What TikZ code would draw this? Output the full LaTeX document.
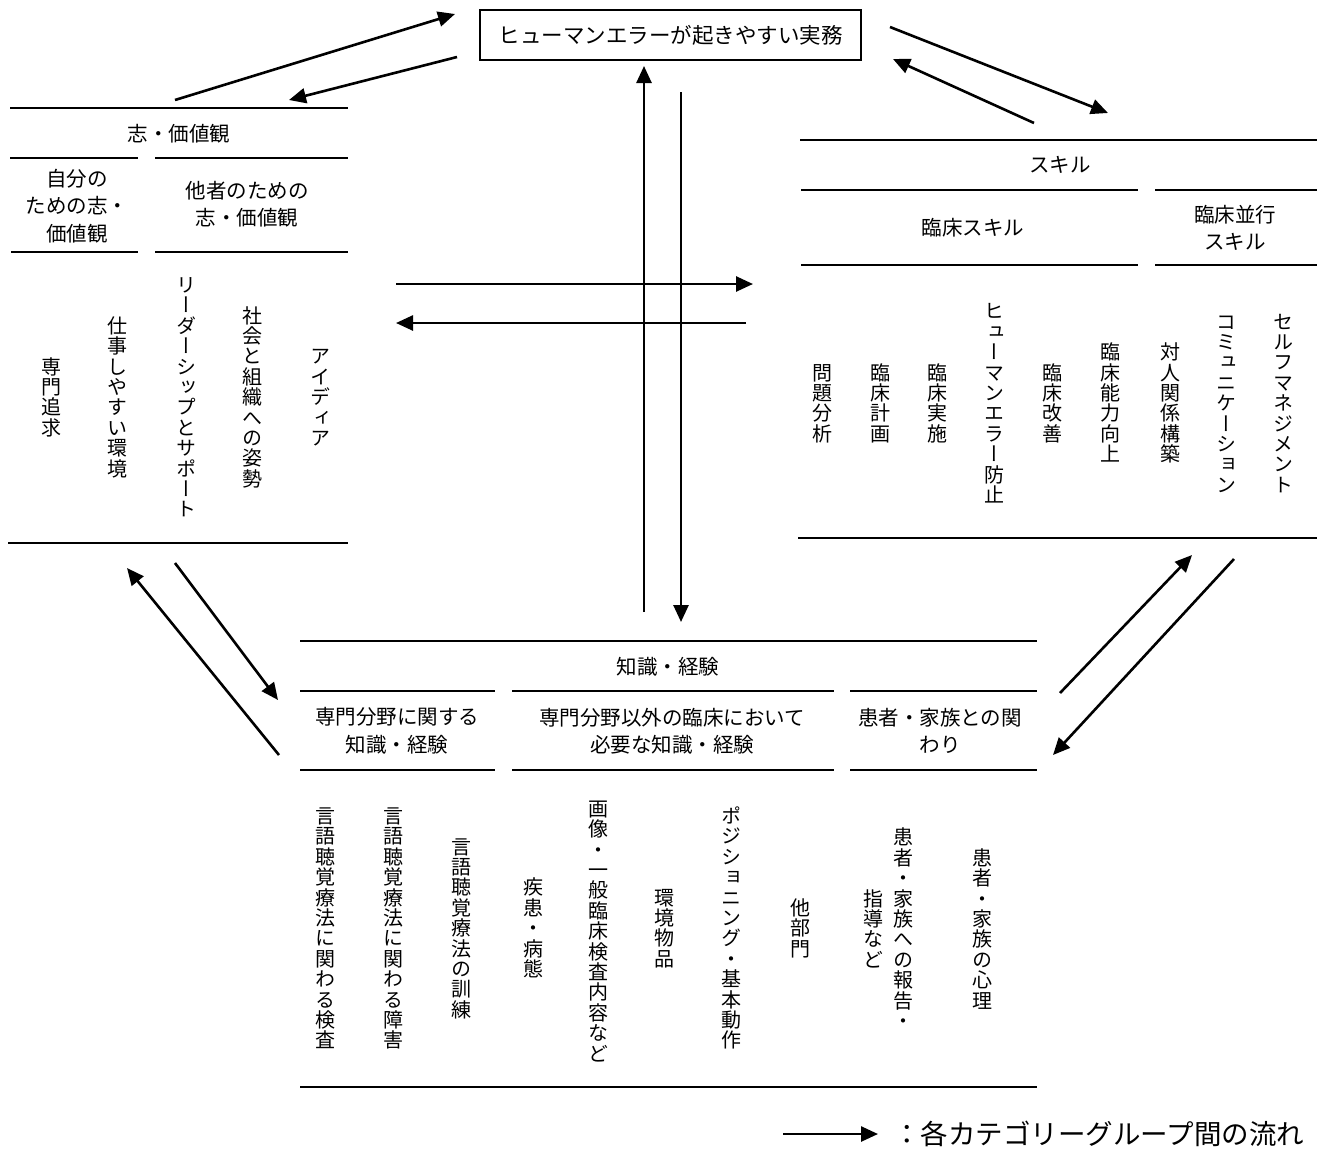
\documentclass[tikz,border=0pt]{standalone}
\usepackage{fontspec}
\setmainfont{Noto Sans CJK JP}
\newfontfamily\vjp[RawFeature=+vert]{Noto Sans CJK JP}
\usetikzlibrary{arrows.meta}
\makeatletter
\newcommand\vtxt[1]{\vbox{\offinterlineskip\vt@loop#1\relax}}
\def\vt@loop#1{\ifx\relax#1\else\hbox to 20pt{\vrule height 17.8pt depth 2.6pt width 0pt\hss#1\hss}\expandafter\vt@loop\fi}
\makeatother
\tikzset{
  rule/.style={line width=2.8pt},
  flow/.style={line width=2.6pt,-{Triangle[length=17pt,width=15pt]}},
  htext/.style={inner sep=0pt,align=center,font=\fontsize{20.5}{27.5}\selectfont},
  vtext/.style={inner sep=0pt,font=\vjp\fontsize{20}{20}\selectfont},
}
\begin{document}
\begin{tikzpicture}[x=1pt,y=-1pt]
\useasboundingbox (0,0) rectangle (1319,1157);

% top box
\node[draw,line width=2.2pt,minimum width=381pt,minimum height=50pt,inner sep=0pt,font=\fontsize{21.5}{21.5}\selectfont] (top) at (670.5,35) {ヒューマンエラーが起きやすい実務};

% ---------- left table ----------
\draw[rule] (10,108) -- (348,108);
\draw[rule] (10,158) -- (138,158);
\draw[rule] (155,158) -- (348,158);
\draw[rule] (11,252) -- (138,252);
\draw[rule] (155,252) -- (348,252);
\draw[rule] (8,543) -- (348,543);
\node[htext] (vT) at (179,134) {志・価値観};
\node[htext] (vS1) at (77,206) {自分の\\ための志・\\価値観};
\node[htext] (vS2) at (247,204) {他者のための\\志・価値観};
\node[vtext] (v1) at (51,397) {\vtxt{専門追求}};
\node[vtext] (v2) at (117,397) {\vtxt{仕事しやすい環境}};
\node[vtext] (v3) at (186,397) {\vtxt{リーダーシップとサポート}};
\node[vtext] (v4) at (252,397) {\vtxt{社会と組織への姿勢}};
\node[vtext] (v5) at (320,397) {\vtxt{アイディア}};

% ---------- right table ----------
\draw[rule] (800,140) -- (1317,140);
\draw[rule] (801,190) -- (1138,190);
\draw[rule] (1155,190) -- (1317,190);
\draw[rule] (801,265) -- (1138,265);
\draw[rule] (1155,265) -- (1317,265);
\draw[rule] (798,538) -- (1317,538);
\node[htext] (sT) at (1060,165) {スキル};
\node[htext] (sS1) at (973,228) {臨床スキル};
\node[htext] (sS2) at (1235,228) {臨床並行\\スキル};
\node[vtext] (s1) at (822,403) {\vtxt{問題分析}};
\node[vtext] (s2) at (880,403) {\vtxt{臨床計画}};
\node[vtext] (s3) at (937,403) {\vtxt{臨床実施}};
\node[vtext] (s4) at (994,403) {\vtxt{ヒューマンエラー防止}};
\node[vtext] (s5) at (1052,403) {\vtxt{臨床改善}};
\node[vtext] (s6) at (1110,403) {\vtxt{臨床能力向上}};
\node[vtext] (s7) at (1170,403) {\vtxt{対人関係構築}};
\node[vtext] (s8) at (1226,403) {\vtxt{コミュニケーション}};
\node[vtext] (s9) at (1283,403) {\vtxt{セルフマネジメント}};

% ---------- bottom table ----------
\draw[rule] (300,641) -- (1037,641);
\draw[rule] (300,691) -- (495,691);
\draw[rule] (512,691) -- (834,691);
\draw[rule] (850,691) -- (1037,691);
\draw[rule] (300,770) -- (495,770);
\draw[rule] (512,770) -- (834,770);
\draw[rule] (850,770) -- (1037,770);
\draw[rule] (300,1087) -- (1037,1087);
\node[htext] (kT) at (668,667) {知識・経験};
\node[htext] (kS1) at (397,731) {専門分野に関する\\知識・経験};
\node[htext] (kS2) at (672,731) {専門分野以外の臨床において\\必要な知識・経験};
\node[htext] (kS3) at (940,731) {患者・家族との関\\わり};
\node[vtext] (k1) at (325,928) {\vtxt{言語聴覚療法に関わる検査}};
\node[vtext] (k2) at (393,928) {\vtxt{言語聴覚療法に関わる障害}};
\node[vtext] (k3) at (461,928) {\vtxt{言語聴覚療法の訓練}};
\node[vtext] (k4) at (533,928) {\vtxt{疾患・病態}};
\node[vtext] (k5) at (598,931) {\vtxt{画像・一般臨床検査内容など}};
\node[vtext] (k6) at (664,928) {\vtxt{環境物品}};
\node[vtext] (k7) at (731,928) {\vtxt{ポジショニング・基本動作}};
\node[vtext] (k8) at (800,928) {\vtxt{他部門}};
\node[vtext] (k9a) at (903,929) {\vtxt{患者・家族への報告・}};
\node[vtext] (k9b) at (873,929) {\vtxt{指導など}};
\node[vtext] (k10) at (982,929) {\vtxt{患者・家族の心理}};

% ---------- arrows ----------
\coordinate (a1s) at (175,100);  \coordinate (a1e) at (455,14);
\coordinate (a2s) at (457,57);   \coordinate (a2e) at (289,100);
\coordinate (a3s) at (890,27);   \coordinate (a3e) at (1108,113);
\coordinate (a4s) at (1034,123); \coordinate (a4e) at (893,59);
\coordinate (a5s) at (644,612);  \coordinate (a5e) at (644,66);
\coordinate (a6s) at (681,92);   \coordinate (a6e) at (681,622);
\coordinate (a7s) at (396,284);  \coordinate (a7e) at (753,284);
\coordinate (a8s) at (746,323);  \coordinate (a8e) at (396,323);
\coordinate (a9s) at (279,755);  \coordinate (a9e) at (127,568);
\coordinate (a10s) at (175,563); \coordinate (a10e) at (278,700);
\coordinate (a11s) at (1060,693);\coordinate (a11e) at (1192,555);
\coordinate (a12s) at (1234,559);\coordinate (a12e) at (1053,755);
\foreach \i in {1,...,12}{\draw[flow] (a\i s) -- (a\i e);}

% legend
\coordinate (ls) at (783,1134); \coordinate (le) at (878,1134);
\draw[flow] (ls) -- (le);
\node[inner sep=0pt,anchor=west,font=\fontsize{27.5}{27.5}\selectfont] (leg) at (893,1134) {：各カテゴリーグループ間の流れ};
\end{tikzpicture}
\end{document}
